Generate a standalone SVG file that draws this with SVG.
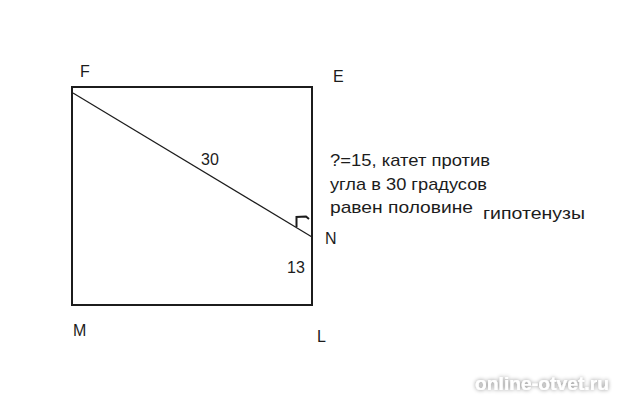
<svg xmlns="http://www.w3.org/2000/svg" width="619" height="400" viewBox="0 0 619 400">
<defs>
<style>
.t{font-family:"Liberation Sans",Arial,sans-serif;font-size:16px;fill:#1c1c1c}
.n{font-family:"Liberation Sans",Arial,sans-serif;font-size:17px;fill:#1c1c1c}
.s{fill:none;stroke:#1c1c1c}
.wm{font-family:"Liberation Sans",Arial,sans-serif;font-size:18px;font-weight:bold;fill:#ffffff}
</style>
<filter id="sh" x="-20%" y="-50%" width="140%" height="200%">
<feGaussianBlur in="SourceAlpha" stdDeviation="2.2" result="b"/>
<feComponentTransfer in="b" result="c"><feFuncA type="linear" slope="0.5"/></feComponentTransfer>
<feMerge><feMergeNode in="c"/><feMergeNode in="SourceGraphic"/></feMerge>
</filter>
</defs>
<rect width="619" height="400" fill="#ffffff"/>
<g id="square">
<rect class="s" x="72" y="87" width="240" height="218" stroke-width="2"/>
</g>
<g id="connectors">
<line class="s" x1="73" y1="93" x2="312" y2="237" stroke-width="1.2"/>
<path class="s" d="M296.5,227 L296.5,217 L306,216.5 L309,219" stroke-width="2"/>
</g>
<g id="labels">
<text class="t" x="80" y="77">F</text>
<text class="t" x="333" y="82">E</text>
<text class="t" x="73" y="336">M</text>
<text class="t" x="317" y="342">L</text>
<text class="t" x="325" y="244">N</text>
<text class="t" x="201" y="165">30</text>
<text class="t" x="287" y="273">13</text>
</g>
<g id="note">
<text class="n" x="330" y="166" textLength="160" lengthAdjust="spacingAndGlyphs">?=15, катет против</text>
<text class="n" x="330" y="190" textLength="157" lengthAdjust="spacingAndGlyphs">угла в 30 градусов</text>
<text class="n" x="330" y="213" textLength="143" lengthAdjust="spacingAndGlyphs">равен половине</text>
<text class="n" x="483" y="219" textLength="102" lengthAdjust="spacingAndGlyphs">гипотенузы</text>
</g>
<g id="watermark" filter="url(#sh)">
<text class="wm" x="475" y="390" textLength="134" lengthAdjust="spacingAndGlyphs">online-otvet.ru</text>
</g>
</svg>
